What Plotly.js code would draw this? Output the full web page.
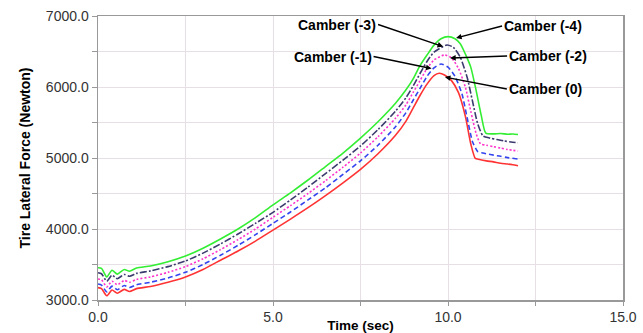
<!DOCTYPE html>
<html>
<head>
<meta charset="utf-8">
<script src="https://cdn.plot.ly/plotly-3.0.1.min.js"></script>
<style>html,body{margin:0;padding:0;background:#fff;}#chart{width:643px;height:333px;}</style>
</head>
<body>
<div id="chart"></div>
<script>
// Camber (0) - red solid
const t0 = [0,0.1,0.25,0.4,0.55,0.75,0.9,1.1,1.5,2.0,2.5,3.0,3.5,4.0,4.5,5.0,5.5,6.0,6.5,7.0,7.5,8.0,8.5,8.8,9.0,9.2,9.4,9.6,9.75,9.9,10.1,10.3,10.5,10.65,10.78,10.9,11.1,11.3,11.5,11.7,11.85,12.0];
const f0 = [3175,3160,3060,3140,3095,3150,3120,3160,3190,3250,3325,3430,3560,3690,3830,3985,4140,4300,4470,4650,4840,5060,5320,5520,5700,5880,6040,6160,6193,6170,6090,5920,5580,5200,4995,4980,4960,4945,4925,4915,4905,4890];
// Camber (-1) - blue dashed
const t1 = [0,0.1,0.25,0.4,0.55,0.75,0.9,1.1,1.5,2.0,2.5,3.0,3.5,4.0,4.5,5.0,5.5,6.0,6.5,7.0,7.5,8.0,8.5,8.8,9.0,9.2,9.4,9.6,9.8,10.0,10.2,10.4,10.55,10.7,10.85,11.0,11.3,11.5,11.7,12.0];
const f1 = [3225,3210,3115,3195,3145,3205,3175,3215,3250,3310,3390,3500,3630,3770,3920,4080,4240,4410,4580,4770,4960,5180,5440,5640,5810,5980,6150,6270,6324,6280,6150,5900,5560,5230,5090,5070,5040,5025,5005,4986];
// Camber (-2) - magenta dotted
const t2 = [0,0.1,0.25,0.4,0.55,0.75,0.9,1.1,1.5,2.0,2.5,3.0,3.5,4.0,4.5,5.0,5.5,6.0,6.5,7.0,7.5,8.0,8.5,8.8,9.0,9.2,9.4,9.6,9.9,10.1,10.3,10.5,10.65,10.8,10.93,11.1,11.3,11.5,11.7,12.0];
const f2 = [3296,3285,3185,3265,3215,3275,3250,3290,3325,3390,3470,3580,3710,3850,4000,4165,4330,4500,4680,4870,5070,5300,5560,5750,5920,6090,6260,6380,6451,6410,6260,5990,5660,5350,5200,5180,5160,5140,5120,5099];
// Camber (-3) - navy dash-dot
const t3 = [0,0.1,0.25,0.4,0.55,0.75,0.9,1.1,1.5,2.0,2.5,3.0,3.5,4.0,4.5,5.0,5.5,6.0,6.5,7.0,7.5,8.0,8.5,8.8,9.0,9.2,9.4,9.6,9.97,10.15,10.35,10.55,10.7,10.85,11.0,11.2,11.4,11.6,11.8,12.0];
const f3 = [3385,3370,3265,3350,3300,3360,3335,3375,3410,3470,3550,3660,3790,3930,4080,4235,4410,4590,4780,4970,5170,5400,5660,5850,6010,6190,6360,6490,6592,6560,6420,6130,5800,5480,5310,5280,5260,5240,5225,5215];
// Camber (-4) - green solid
const t4 = [0,0.1,0.25,0.4,0.55,0.75,0.9,1.1,1.5,2.0,2.5,3.0,3.5,4.0,4.5,5.0,5.5,6.0,6.5,7.0,7.5,8.0,8.5,8.8,9.0,9.2,9.4,9.6,9.8,10.0,10.2,10.35,10.5,10.65,10.8,10.95,11.08,11.3,11.5,11.7,11.85,12.0];
const f4 = [3455,3445,3325,3420,3365,3430,3405,3450,3480,3540,3620,3730,3860,4000,4160,4340,4510,4690,4880,5070,5280,5510,5770,5960,6110,6300,6450,6590,6680,6710,6680,6610,6460,6280,5960,5600,5350,5340,5345,5335,5338,5330];

const seriesNames = ['Camber (0)','Camber (-1)','Camber (-2)','Camber (-3)','Camber (-4)'];
const xTickVals = [0,5,10,15];
const xTickText = ['0.0','5.0','10.0','15.0'];
const yTickVals = [3000,4000,5000,6000,7000];
const yTickText = ['3000.0','4000.0','5000.0','6000.0','7000.0'];

const styles = [
  {color:'#ff3333', dash:'solid'},
  {color:'#3344ee', dash:'5px,3px'},
  {color:'#ff33cc', dash:'2px,2px'},
  {color:'#3a3a6e', dash:'7px,2px,2px,2px'},
  {color:'#33ee33', dash:'solid'}
];
const xs = [t0,t1,t2,t3,t4], ys = [f0,f1,f2,f3,f4];
const traces = xs.map((x,i)=>({
  x:x, y:ys[i], type:'scatter', mode:'lines', name:seriesNames[i],
  line:{color:styles[i].color, dash:styles[i].dash, width:1.6, shape:'spline', smoothing:0.6},
  hoverinfo:'skip'
}));

const FONT = 'Liberation Sans, Arial, sans-serif';
function arrowAnn(text, xv, yv, ax, ay, xanchor){
  return {x:xv, y:yv, xref:'x', yref:'y', text:'<b>'+text+'</b>', showarrow:true,
    arrowhead:2, arrowsize:0.8, arrowwidth:1.4, arrowcolor:'#000', ax:ax, ay:ay,
    xanchor:xanchor, yanchor:'middle', font:{family:FONT, size:14, color:'#000'}};
}
const annotations = [
  arrowAnn(seriesNames[3], 9.86, 6570, -65, -22, 'right'),
  arrowAnn(seriesNames[4], 10.23, 6690, 46, -12, 'left'),
  arrowAnn(seriesNames[2], 10.06, 6408, 57, -2, 'left'),
  arrowAnn(seriesNames[1], 9.53, 6260, -58, -12, 'right'),
  arrowAnn(seriesNames[0], 9.91, 6140, 62, 12, 'left')
];

const axisFont = {family:FONT, size:14, color:'#333'};
const layout = {
  width:643, height:333,
  margin:{l:98, r:20, t:16, b:33},
  paper_bgcolor:'#fff', plot_bgcolor:'#fff',
  showlegend:false,
  xaxis:{range:[0,15], tickvals:xTickVals, ticktext:xTickText, tickfont:axisFont,
    showgrid:true, gridcolor:'#e6dfe6', gridwidth:1,
    minor:{dtick:2.5, tick0:0, showgrid:true, gridcolor:'#e6dfe6', ticks:'outside', ticklen:4, tickcolor:'#999'},
    ticks:'outside', ticklen:4, tickcolor:'#999',
    showline:true, linecolor:'#999', linewidth:1.5, mirror:true, zeroline:false,
    title:{text:'<b>Time (sec)</b>', font:{family:FONT, size:13.5, color:'#000'}, standoff:0}
  },
  yaxis:{range:[3000,7000], tickvals:yTickVals, ticktext:yTickText, tickfont:axisFont,
    showgrid:true, gridcolor:'#e6dfe6', gridwidth:1,
    minor:{dtick:500, tick0:3000, showgrid:true, gridcolor:'#e6dfe6', ticks:'outside', ticklen:5, tickcolor:'#999'},
    ticks:'outside', ticklen:5, tickcolor:'#999',
    showline:true, linecolor:'#999', linewidth:1.5, mirror:true, zeroline:false,
    title:{text:'<b>Tire Lateral Force (Newton)</b>', font:{family:FONT, size:14, color:'#000'}, standoff:12}
  },
  annotations:annotations
};
Plotly.newPlot('chart', traces, layout, {staticPlot:true, displayModeBar:false});
</script>
</body>
</html>
